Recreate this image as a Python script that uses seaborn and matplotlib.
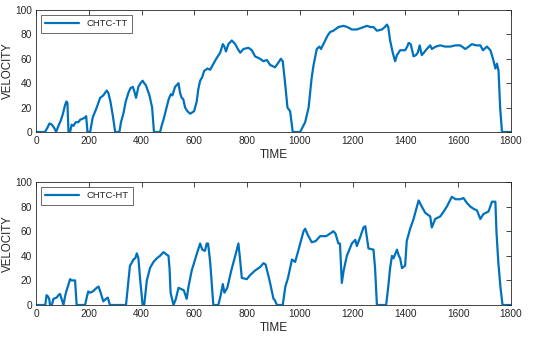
import numpy as np
import pandas as pd
import matplotlib
matplotlib.use("Agg")
import matplotlib.pyplot as plt
import seaborn as sns

# ---- data ----
tt_time = [0, 34, 42, 51, 60, 70, 76, 85, 95, 102, 110, 115, 119, 123, 129, 135, 142, 150, 160, 167, 178, 186, 190, 195, 205,
           215, 230, 243, 255, 268, 274, 282, 292, 300, 316, 322, 331, 340, 350, 358, 367, 373, 379, 388, 396, 404, 410, 417,
           430, 440, 447, 470, 476, 483, 495, 503, 511, 517, 527, 540, 546, 552, 558, 565, 574, 584, 599, 609, 615, 622, 630,
           637, 650, 660, 670, 683, 698, 708, 714, 720, 729, 742, 755, 765, 774, 786, 805, 818, 830, 849, 862, 875, 887, 897,
           906, 919, 928, 935, 944, 953, 963, 973, 1001, 1008, 1020, 1033, 1045, 1052, 1064, 1074, 1080, 1096, 1105, 1115,
           1127, 1146, 1165, 1180, 1197, 1215, 1229, 1254, 1268, 1279, 1292, 1311, 1322, 1330, 1335, 1342, 1352, 1361, 1368,
           1380, 1399, 1407, 1412, 1420, 1431, 1440, 1447, 1454, 1462, 1470, 1481, 1494, 1500, 1515, 1532, 1550, 1570, 1590,
           1608, 1627, 1640, 1652, 1668, 1684, 1694, 1709, 1722, 1732, 1741, 1747, 1753, 1759, 1766, 1800]
tt_vel = [0, 0, 3, 7, 6, 3, 0, 5, 10, 15, 22, 25, 24, 0, 0, 6, 5, 8, 8, 10, 11, 12, 13, 0, 0,
          12, 20, 28, 30, 34, 32, 25, 12, 0, 0, 8, 15, 25, 32, 36, 37, 33, 28, 37, 40, 42, 40, 38,
          30, 20, 0, 0, 5, 10, 20, 27, 31, 30, 37, 40, 32, 28, 27, 20, 17, 15, 17, 25, 35, 42, 45,
          50, 52, 51, 55, 60, 65, 72, 70, 66, 72, 75, 72, 68, 65, 68, 69, 67, 62, 60, 58, 59, 55, 54,
          53, 57, 60, 58, 40, 20, 17, 0, 0, 3, 8, 20, 45, 55, 68, 70, 68, 75, 79, 82,
          83, 86, 87, 86, 84, 84, 85, 87, 86, 86, 83, 84, 86, 88, 86, 75, 65, 58, 63,
          67, 67, 70, 73, 72, 62, 63, 65, 71, 63, 65, 68, 71, 68, 70, 71, 70, 70, 71,
          71, 68, 70, 72, 71, 71, 67, 70, 67, 60, 52, 56, 50, 20, 0, 0]

ht_time = [0, 35, 40, 45, 50, 53, 60, 66, 78, 85, 91, 104, 110, 116, 122, 129, 135, 148, 154, 186, 192, 198, 205, 215,
           230, 237, 245, 255, 265, 272, 280, 341, 348, 356, 362, 369, 376, 382, 388, 395, 404, 410, 415, 420, 432, 445,
           458, 470, 483, 495, 502, 506, 510, 521, 530, 540, 550, 560, 571, 578, 590, 600, 610, 622, 630, 640, 647, 652,
           660, 672, 691, 700, 708, 714, 725, 740, 755, 767, 772, 780, 799, 810, 830, 850, 862, 870, 885, 900, 905, 913,
           935, 945, 955, 970, 982, 995, 1014, 1020, 1030, 1045, 1060, 1077, 1100, 1121, 1127, 1135, 1146, 1152, 1159, 1166,
           1178, 1197, 1210, 1216, 1230, 1241, 1248, 1254, 1260, 1279, 1285, 1292, 1327, 1335, 1342, 1349, 1355, 1368,
           1375, 1380, 1387, 1399, 1405, 1418, 1431, 1450, 1462, 1475, 1494, 1500, 1513, 1532, 1545, 1557, 1576, 1590,
           1608, 1620, 1633, 1646, 1660, 1671, 1684, 1696, 1715, 1728, 1741, 1745, 1752, 1760, 1768, 1800]
ht_vel = [0, 0, 8, 7, 5, 0, 0, 5, 6, 8, 9, 0, 7, 12, 16, 21, 20, 20, 0, 0, 6, 11, 10, 11,
          14, 15, 10, 3, 5, 6, 0, 0, 15, 32, 34, 37, 38, 42, 38, 20, 0, 0, 10, 20, 30, 35,
          38, 40, 43, 41, 40, 30, 10, 0, 5, 14, 13, 12, 5, 15, 28, 35, 42, 50, 45, 44, 50, 50,
          35, 0, 0, 8, 17, 10, 14, 28, 40, 50, 40, 22, 21, 24, 28, 31, 34, 33, 20, 5, 4, 0,
          0, 15, 22, 37, 35, 45, 60, 62, 57, 51, 52, 56, 56, 59, 60, 58, 50, 50, 18, 28,
          40, 50, 53, 48, 56, 63, 64, 55, 46, 45, 30, 0, 0, 15, 30, 40, 38, 45,
          40, 38, 30, 32, 52, 62, 70, 85, 80, 75, 72, 63, 70, 72, 76, 80, 88, 86,
          86, 87, 83, 80, 78, 77, 70, 74, 76, 84, 84, 60, 35, 15, 0, 0]

x_ticks = [0, 200, 400, 600, 800, 1000, 1200, 1400, 1600, 1800]
y_ticks = [0, 20, 40, 60, 80, 100]
labels = ["CHTC-TT", "CHTC-HT"]

sns.set_style("white")
plt.rcParams['font.family'] = ['Liberation Sans', 'DejaVu Sans']

fig = plt.figure(figsize=(5.5, 3.38), dpi=100)
ax1 = fig.add_axes([0.0655, 0.6095, 0.8635, 0.361])
ax2 = fig.add_axes([0.0655, 0.0976, 0.8635, 0.3639])

blue = "#0072BD"
axc = "#262626"
for ax, t, v, lab in [(ax1, tt_time, tt_vel, labels[0]), (ax2, ht_time, ht_vel, labels[1])]:
    df = pd.DataFrame({"TIME": t, "VELOCITY": v})
    sns.lineplot(data=df, x="TIME", y="VELOCITY", ax=ax, color=blue, linewidth=1.6, label=lab)
    ax.set_xlim(0, 1800)
    ax.set_ylim(0, 100)
    ax.set_xticks(x_ticks)
    ax.set_yticks(y_ticks)
    ax.tick_params(direction="in", length=3.5, width=0.6, top=True, right=True,
                   labelsize=7.3, colors=axc, pad=3)
    for s in ax.spines.values():
        s.set_color(axc)
        s.set_linewidth(0.6)
        s.set_visible(True)
    ax.set_xlabel("TIME", fontsize=8.5, color=axc, labelpad=2)
    ax.set_ylabel("VELOCITY", fontsize=8.3, color=axc, labelpad=1)
    leg = ax.legend(loc="upper left", fontsize=6.8, frameon=True, fancybox=False,
                    handlelength=3.6, borderpad=0.5, borderaxespad=0.5, handletextpad=0.7)
    leg.get_frame().set_edgecolor(axc)
    leg.get_frame().set_linewidth(0.6)

fig.savefig("out.png", dpi=100)
